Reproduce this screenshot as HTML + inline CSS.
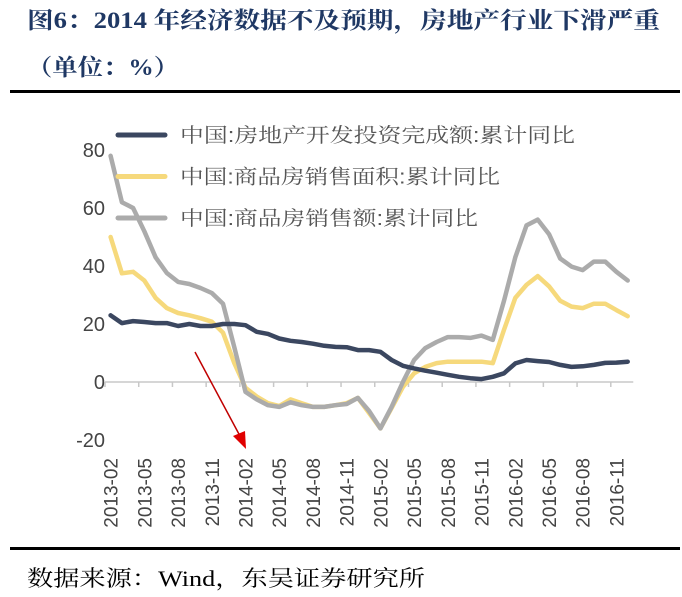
<!DOCTYPE html>
<html><head><meta charset="utf-8"><style>
body{margin:0;background:#fff;}
svg{display:block;}
</style></head><body>
<svg id="chart" width="682" height="597" viewBox="0 0 682 597" xmlns="http://www.w3.org/2000/svg">
<text x="27" y="28" textLength="633" lengthAdjust="spacingAndGlyphs" font-family="Liberation Serif, Noto Serif CJK SC, serif" font-weight="bold" font-size="23" fill="#1f3864">图6：2014 年经济数据不及预期，房地产行业下滑严重</text>
<text x="27" y="75" textLength="152" lengthAdjust="spacingAndGlyphs" font-family="Liberation Serif, Noto Serif CJK SC, serif" font-weight="bold" font-size="23" fill="#1f3864">（单位：%）</text>
<rect x="10" y="90" width="670" height="3" fill="#000"/>
<rect x="10" y="547" width="670" height="3" fill="#000"/>
<text x="27" y="586" textLength="398" lengthAdjust="spacingAndGlyphs" font-family="Liberation Serif, Noto Serif CJK SC, serif" font-size="22" fill="#000">数据来源：Wind，东吴证券研究所</text>
<g id="axes"></g>
<g id="series"></g>
<g id="legend"></g>
<line x1="195" y1="352" x2="240" y2="436" stroke="#c00000" stroke-width="1.5"/>
<polygon points="246,449 233,436 245,431" fill="#e00000"/>
</svg>
<script>
const categories = (function(){const a=[];for(let y=2013;y<=2016;y++){for(let m=(y===2013?2:1);m<=12;m++){a.push(y+'-'+String(m).padStart(2,'0'));}}return a;})();
const investYoY = [23,20.3,21,20.7,20.3,20.3,19.3,20,19.3,19.3,20,20,19.6,17.3,16.6,15,14.2,13.8,13.2,12.5,12.1,12,11,11,10.4,7.6,5.6,4.7,3.9,3.2,2.5,1.8,1.3,1,1.8,3,6.4,7.6,7.2,6.9,5.9,5.2,5.4,5.9,6.6,6.7,7];
const areaYoY = [50,37.5,38,35,29,25.5,23.8,23,22,20.8,17,6.5,-2,-5,-7.3,-8.3,-6,-7.3,-8.6,-8.6,-8,-7.3,-5.5,-10.7,-16,-9,-1.7,3,5.2,6.5,7,7,7,7,6.5,18,29,33.5,36.5,33,28,26,25.5,27,27,24.8,22.7];
const salesYoY = [78,62,60,52,43,37.6,34.5,33.8,32.4,30.7,27,12,-3.4,-6,-8,-8.6,-7,-8,-8.6,-8.6,-8,-7.6,-5.5,-10,-16,-8.6,0,7.6,11.7,13.8,15.5,15.5,15.2,16,14.5,28,43,54,56,51,42.6,39.8,38.6,41.5,41.5,38,35];
const yTicks = [80,60,40,20,0,-20];
const seriesNames = ['中国:房地产开发投资完成额:累计同比','中国:商品房销售面积:累计同比','中国:商品房销售额:累计同比'];

const NS='http://www.w3.org/2000/svg';
const x0=105, step=11.24;
const xPos=i=>x0+(i+0.5)*step;
const yPos=v=>382-v*2.9;
function mk(tag,attrs,parent){const e=document.createElementNS(NS,tag);for(const k in attrs)e.setAttribute(k,attrs[k]);parent.appendChild(e);return e;}
const axes=document.getElementById('axes');
yTicks.forEach(t=>{
  const e=mk('text',{x:105,y:yPos(t)+7,'text-anchor':'end','font-family':'Liberation Sans, sans-serif','font-size':'20',fill:'#444'},axes);
  
  
  e.textContent=t;
});
const zl=mk('line',{x1:x0,y1:yPos(0),x2:x0+categories.length*step,y2:yPos(0),stroke:'#c8c8c8','stroke-width':1.5},axes);


for(let i=0;i<=categories.length;i+=3){
  const tk=mk('line',{x1:x0+i*step,y1:yPos(0),x2:x0+i*step,y2:yPos(0)+5,stroke:'#c8c8c8','stroke-width':1.5},axes);
  
  
}
categories.forEach((c,i)=>{
  if(i%3!==0)return;
  const x=xPos(i)+7, y=458;
  const e=mk('text',{x:x,y:y,transform:`rotate(-90 ${x} ${y})`,'text-anchor':'end','font-family':'Liberation Sans, sans-serif','font-size':'19',fill:'#444'},axes);
  
  
  e.textContent=c;
});
const colors=['#3b4760','#f6d97c','#ababab'];
const datas=[investYoY,areaYoY,salesYoY];
const legendWidths=[395,320,298];
const sg=document.getElementById('series');
[1,2,0].forEach(k=>{
  const pts=datas[k].map((v,i)=>xPos(i).toFixed(1)+','+yPos(v).toFixed(1)).join(' ');
  const p=mk('polyline',{points:pts,fill:'none',stroke:colors[k],'stroke-width':4.5,'stroke-linejoin':'round','stroke-linecap':'round'},sg);
  
  
});
const lg=document.getElementById('legend');
seriesNames.forEach((n,k)=>{
  const y=135+k*41.5;
  const g=mk('g',{},lg);
  
  
  mk('line',{x1:118,y1:y,x2:165,y2:y,stroke:colors[k],'stroke-width':5,'stroke-linecap':'round'},g);
  const t=mk('text',{x:180,y:y+7,textLength:legendWidths[k],lengthAdjust:'spacingAndGlyphs','font-family':'Liberation Sans, Noto Serif CJK SC, serif','font-size':'20',fill:'#555'},g);
  t.textContent=n;
});
</script>
</body></html>
